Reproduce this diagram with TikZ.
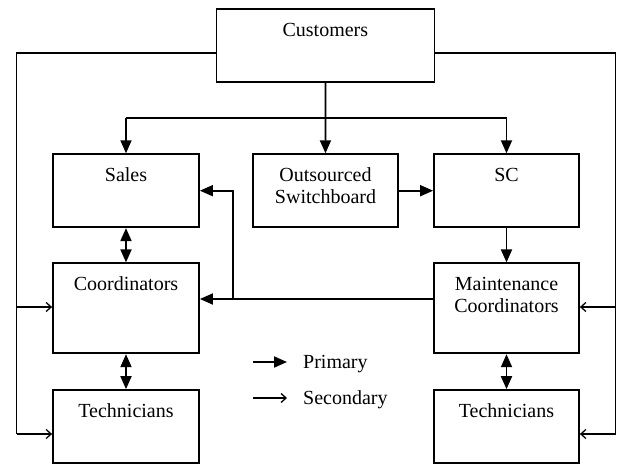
\documentclass[tikz,border=0pt]{standalone}
\usepackage{fontspec}
\setmainfont{Liberation Serif}
\usetikzlibrary{arrows.meta}
\begin{document}
\begin{tikzpicture}[x=1pt,y=-1pt,
  box/.style={draw, line width=1.8pt, inner sep=0pt, align=center, text height=27.5pt,
    font=\fontsize{20}{22}\selectfont},
  prim/.style={line width=1.8pt, -{Triangle[length=13pt,width=11pt]}},
  dprim/.style={line width=1.8pt, {Triangle[length=13pt,width=11pt]}-{Triangle[length=13pt,width=11pt]}},
  pline/.style={line width=1.8pt},
  sline/.style={line width=1.3pt},
  sec/.style={line width=1.3pt, -{Straight Barb[length=5pt,width=9pt]}},
  lbl/.style={font=\fontsize{20}{22}\selectfont, anchor=base west, inner sep=0pt}]
\useasboundingbox (0,0) rectangle (622,470);
% boxes
\node[box, minimum width=218pt, minimum height=72.4pt, text depth=44.9pt] (cust) at (325.4,45.5) {Customers};
\node[box, minimum width=146pt, minimum height=73pt, text depth=45.5pt] (sales) at (126,190.7) {Sales};
\node[box, minimum width=145pt, minimum height=73pt, text height=38.5pt, text depth=12.5pt] (outs) at (325.5,190.7) {Outsourced\\Switchboard};
\node[box, minimum width=145pt, minimum height=73pt, text depth=45.5pt] (sc) at (506.5,190.7) {SC};
\node[box, minimum width=146pt, minimum height=90pt, text depth=62.5pt] (coord) at (126,308.3) {Coordinators};
\node[box, minimum width=145pt, minimum height=90pt, text height=38.5pt, text depth=29.5pt] (mc) at (506.5,308.3) {Maintenance\\Coordinators};
\node[box, minimum width=146pt, minimum height=72.7pt, text depth=45.2pt] (techl) at (126,426.4) {Technicians};
\node[box, minimum width=145pt, minimum height=72.7pt, text depth=45.2pt] (techr) at (506.5,426.4) {Technicians};
% primary connectors
\coordinate (jl) at (126,118);
\coordinate (jr) at (506.5,118);
\draw[prim] (cust) -- (outs);
\draw[pline] (jl) -- (jr);
\draw[prim] (jl) -- (sales.north);
\draw[prim] (jr) -- (sc.north);
\draw[prim] (outs) -- (sc);
\draw[prim] (sc) -- (mc);
\coordinate (mj) at (233,299);
\draw[pline] (mc.west |- mj) -- (mj);
\draw[prim] (mj) -- (coord.east |- mj);
\draw[prim] (mj) |- (sales.east);
\draw[dprim] (sales) -- (coord);
\draw[dprim] (coord) -- (techl);
\draw[dprim] (mc) -- (techr);
% secondary connectors
\coordinate (lt) at (16.7,53);
\coordinate (lc) at (16.7,307);
\coordinate (lb) at (16.7,434);
\draw[sline] (cust.west |- lt) -- (lt) -- (lb);
\draw[sec] (lc) -- (coord.west |- lc);
\draw[sec] (lb) -- (techl.west |- lb);
\coordinate (rt) at (615.5,53);
\coordinate (rc) at (615.5,307);
\coordinate (rb) at (615.5,434);
\draw[sline] (cust.east |- rt) -- (rt) -- (rb);
\draw[sec] (rc) -- (mc.east |- rc);
\draw[sec] (rb) -- (techr.east |- rb);
% legend
\coordinate (p1) at (253,362);
\coordinate (p2) at (287,362);
\draw[prim] (p1) -- (p2);
\node[lbl] (ptxt) at (303,368.3) {Primary};
\coordinate (s1) at (253,398);
\coordinate (s2) at (287,398);
\draw[sec] (s1) -- (s2);
\node[lbl] (stxt) at (303,405) {Secondary};
\end{tikzpicture}
\end{document}
